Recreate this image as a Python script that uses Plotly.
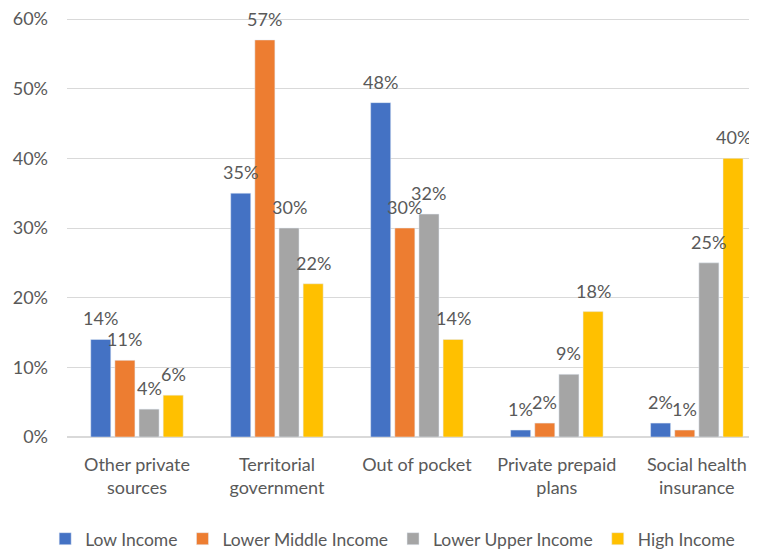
import plotly.graph_objects as go

categories = ["Other private<br>sources", "Territorial<br>government", "Out of pocket", "Private prepaid<br>plans", "Social health<br>insurance"]
series_names = ["Low Income", "Lower Middle Income", "Lower Upper Income", "High Income"]
low_income = [14, 35, 48, 1, 2]
lower_middle = [11, 57, 30, 2, 1]
lower_upper = [4, 30, 32, 9, 25]
high_income = [6, 22, 14, 18, 40]
colors = ["#4472C4", "#ED7D31", "#A5A5A5", "#FFC000"]
y_ticks = [0, 10, 20, 30, 40, 50, 60]

font_family = "Lato, Open Sans, sans-serif"
text_color = "#595959"
bargap = 0.31
bargroupgap = 0.17

all_series = [low_income, lower_middle, lower_upper, high_income]
fig = go.Figure()
for name, vals, col in zip(series_names, all_series, colors):
    fig.add_trace(go.Bar(x=categories, y=vals, name=name, marker_color=col))

# value labels, placed above each bar using the group geometry
n = len(all_series)
slot = (1 - bargap) / n
for si, vals in enumerate(all_series):
    for ci, v in enumerate(vals):
        fig.add_annotation(
            x=ci + (si - (n - 1) / 2) * slot, y=v, xref="x", yref="y",
            text=f"{v}%", showarrow=False, yshift=21,
            font=dict(size=18, color=text_color, family=font_family),
        )

fig.update_layout(
    width=749, height=542,
    barmode="group", bargap=bargap, bargroupgap=bargroupgap,
    plot_bgcolor="white", paper_bgcolor="white",
    margin=dict(l=59, r=0, t=10, b=113, autoexpand=False),
    font=dict(family=font_family, size=18, color=text_color),
    legend=dict(orientation="h", x=0.472, xanchor="center", y=-0.2, yanchor="top",
                font=dict(size=17.5, color=text_color), traceorder="normal",
                itemwidth=30, tracegroupgap=0),
    showlegend=True,
)
fig.update_yaxes(range=[0, 60.15], tickmode="array", tickvals=y_ticks,
                 ticktext=[f"{t}%" for t in y_ticks], showgrid=True,
                 gridcolor="#D9D9D9", gridwidth=1, zeroline=True, zerolinecolor="#D9D9D9",
                 showline=False, tickfont=dict(size=18, color=text_color), ticklabelstandoff=18,
                 ticklabeloverflow="allow")
fig.update_xaxes(showline=False, tickfont=dict(size=18, color=text_color),
                 range=[-0.5, 4.43], ticklabelstandoff=15)

fig.write_html("out.html")
